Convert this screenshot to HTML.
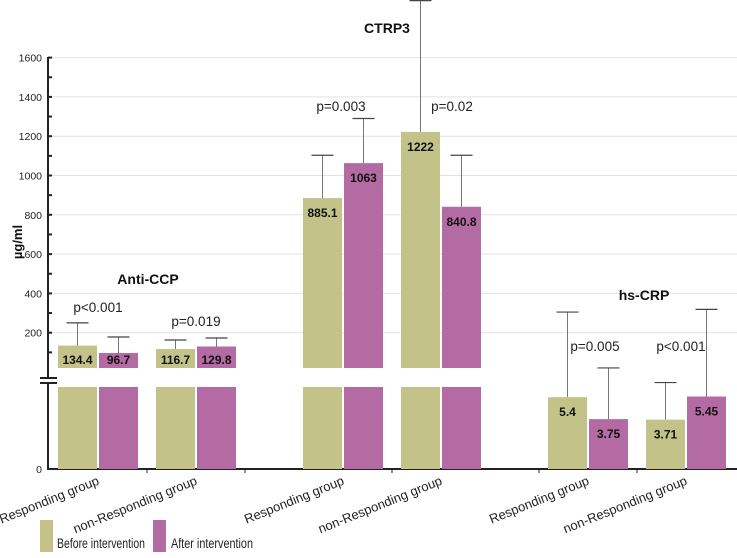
<!DOCTYPE html>
<html><head><meta charset="utf-8"><style>
html,body{margin:0;padding:0;background:#fff;}
svg{display:block;font-family:"Liberation Sans",sans-serif;}
</style></head><body>
<svg id="chart" width="737" height="558" viewBox="0 0 737 558"></svg>
<script>
const categories=["Responding group","non-Responding group","Responding group","non-Responding group","Responding group","non-Responding group"];
const panels=["Anti-CCP","CTRP3","hs-CRP"];
const beforeValues=[134.4,116.7,885.1,1222,5.4,3.71];
const afterValues=[96.7,129.8,1063,840.8,3.75,5.45];
const beforeErr=[250,163,1103,1890,11.8,6.5];
const afterErr=[178,173,1290,1103,7.6,12.0];
const pLabels=["p<0.001","p=0.019","p=0.003","p=0.02","p=0.005","p<0.001"];
const yTicks=[200,400,600,800,1000,1200,1400,1600];
const catPos=[0,1,2.5,3.5,5,6];

const NS="http://www.w3.org/2000/svg";
const svg=document.getElementById('chart');
function mk(tag,attrs,parent){const e=document.createElementNS(NS,tag);for(const k in attrs)e.setAttribute(k,attrs[k]);(parent||svg).appendChild(e);return e;}
const X0=48,BOTTOM=469,ZERO=372,PX=39.3/200;
const yMain=v=>ZERO-v*PX;
const yCRP=v=>BOTTOM-v*13.3;
const xc=i=>98+catPos[i]*98;
const GREEN="#c3c288",PURPLE="#b46aa2";

yTicks.forEach(t=>{
  const y=yMain(t);
  const g=mk('line',{x1:X0,x2:737,y1:y,y2:y,stroke:'#e2e2e2','stroke-width':1});
  
  const tl=mk('text',{x:42,y:y+4,'text-anchor':'end','font-size':10.5,fill:'#222'});tl.textContent=t;
  
  mk('line',{x1:X0,x2:X0+4,y1:y,y2:y,stroke:'#222','stroke-width':2});
  mk('line',{x1:X0,x2:X0+4,y1:y+19.65,y2:y+19.65,stroke:'#222','stroke-width':2});
});
const z=mk('text',{x:42,y:473,'text-anchor':'end','font-size':10.5,fill:'#222'});z.textContent='0';


const ax1=mk('line',{x1:X0,x2:X0,y1:57,y2:378,stroke:'#222','stroke-width':2});

mk('line',{x1:X0,x2:X0,y1:383,y2:470,stroke:'#222','stroke-width':2});
mk('line',{x1:40,x2:57,y1:378,y2:378,stroke:'#222','stroke-width':2});
mk('line',{x1:40,x2:57,y1:383,y2:383,stroke:'#222','stroke-width':2});
const xa=mk('line',{x1:X0,x2:737,y1:BOTTOM,y2:BOTTOM,stroke:'#222','stroke-width':2});

[147,245,392,539,637].forEach(x=>mk('line',{x1:x,x2:x,y1:BOTTOM,y2:BOTTOM+4,stroke:'#222','stroke-width':1}));

const yt=mk('text',{transform:'translate(22,242) rotate(-90)','text-anchor':'middle','font-size':13,'font-weight':'bold',fill:'#111'});
yt.textContent='µg/ml';

function bar(i,v,e,isAfter){
  const c=xc(i);const x=isAfter?c+1:c-40;const w=39;const col=isAfter?PURPLE:GREEN;
  const crp=i>=4;const top=crp?yCRP(v):yMain(v);const etop=crp?yCRP(e):yMain(e);
  const ex=x+w/2;
  const el=mk('line',{x1:ex,x2:ex,y1:Math.max(etop,0),y2:top,stroke:'#777','stroke-width':1});
  
  mk('line',{x1:ex-11,x2:ex+11,y1:Math.max(etop,0.5),y2:Math.max(etop,0.5),stroke:'#444','stroke-width':1.2});
  if(crp){
    const r=mk('rect',{x:x,y:top,width:w,height:BOTTOM-top,fill:col});
    
  }else{
    const r=mk('rect',{x:x,y:top,width:w,height:368-top,fill:col});
    
    const r2=mk('rect',{x:x,y:387,width:w,height:BOTTOM-387,fill:col});
    
  }
  const lblY=crp?top+19:Math.min(top+19,364);
  const t=mk('text',{x:x+w/2,y:lblY,'text-anchor':'middle','font-size':12,'font-weight':'bold',fill:'#111'});
  t.textContent=v;
}
for(let i=0;i<6;i++){bar(i,beforeValues[i],beforeErr[i],false);bar(i,afterValues[i],afterErr[i],true);}

const pPos=[[98,312],[196,326],[341,111],[452,111],[595,351],[681,351]];
pLabels.forEach((p,i)=>{const t=mk('text',{x:pPos[i][0],y:pPos[i][1],'text-anchor':'middle','font-size':13.5,fill:'#222'});t.textContent=p;
  });
const titlePos=[[148,284],[387,33],[644,300]];
panels.forEach((p,i)=>{const t=mk('text',{x:titlePos[i][0],y:titlePos[i][1],'text-anchor':'middle','font-size':14,'font-weight':'bold',fill:'#111'});t.textContent=p;
  });

categories.forEach((c,i)=>{const x=xc(i)+2;
  const t=mk('text',{transform:`translate(${x},484) rotate(-22)`,'text-anchor':'end','font-size':13,fill:'#222'});t.textContent=c;
  });

const lg=mk('g',{});
const l1=mk('rect',{x:40,y:520,width:13,height:32,fill:GREEN},lg);
const t1=mk('text',{x:57,y:548,'font-size':13.5,fill:'#222',textLength:88,lengthAdjust:'spacingAndGlyphs'},lg);t1.textContent='Before intervention';
const l2=mk('rect',{x:153,y:520,width:13,height:32,fill:PURPLE},lg);
const t2=mk('text',{x:171,y:548,'font-size':13.5,fill:'#222',textLength:82,lengthAdjust:'spacingAndGlyphs'},lg);t2.textContent='After intervention';
</script>
</body></html>
